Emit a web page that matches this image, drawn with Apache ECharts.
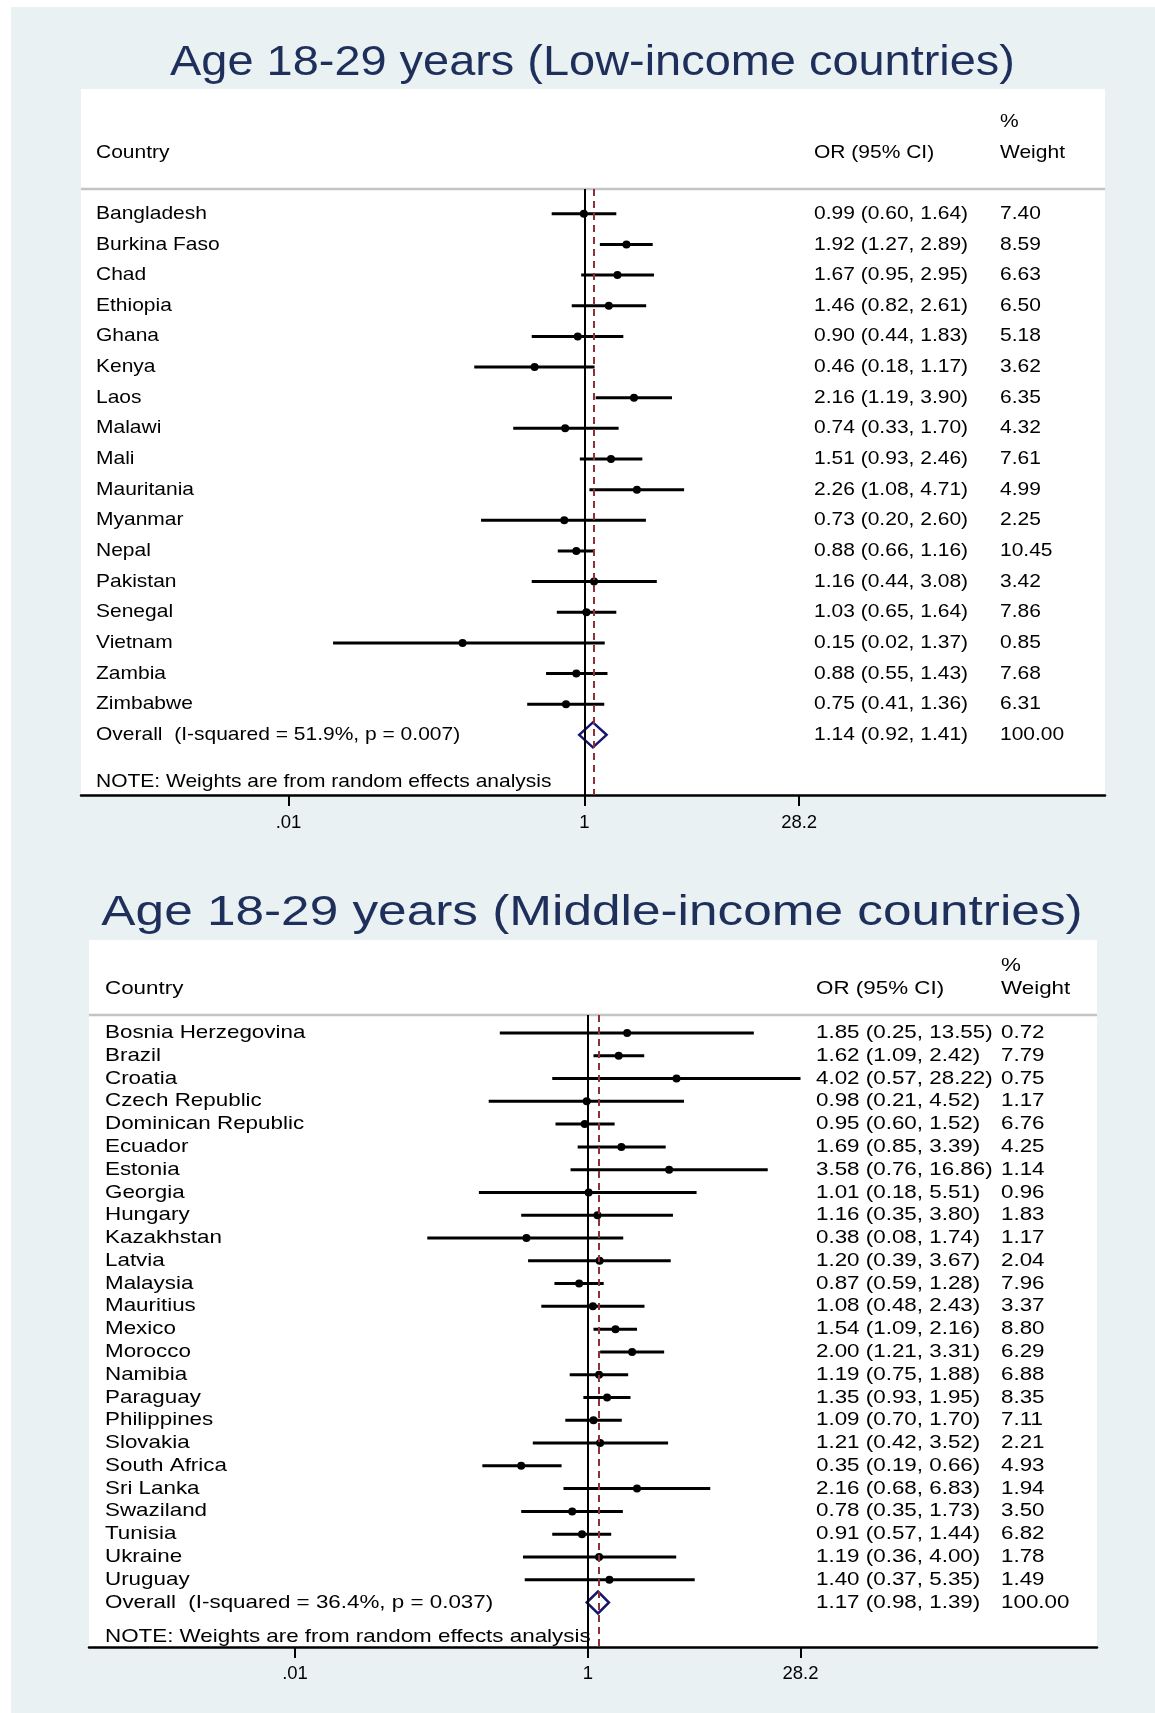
<!DOCTYPE html>
<html>
<head>
<meta charset="utf-8">
<script src="https://cdn.jsdelivr.net/npm/echarts@6/dist/echarts.min.js"></script>
<style>
  html, body { margin: 0; padding: 0; background: #ffffff; }
  #chart { width: 1155px; height: 1713px; }
</style>
</head>
<body>
<div id="chart"></div>
<script>
// ---------- Age 18-29, low-income countries ----------
const lowCountries = ['Bangladesh', 'Burkina Faso', 'Chad', 'Ethiopia', 'Ghana', 'Kenya', 'Laos', 'Malawi',
  'Mali', 'Mauritania', 'Myanmar', 'Nepal', 'Pakistan', 'Senegal', 'Vietnam', 'Zambia', 'Zimbabwe'];
const lowOR     = [0.99, 1.92, 1.67, 1.46, 0.90, 0.46, 2.16, 0.74, 1.51, 2.26, 0.73, 0.88, 1.16, 1.03, 0.15, 0.88, 0.75];
const lowLower  = [0.60, 1.27, 0.95, 0.82, 0.44, 0.18, 1.19, 0.33, 0.93, 1.08, 0.20, 0.66, 0.44, 0.65, 0.02, 0.55, 0.41];
const lowUpper  = [1.64, 2.89, 2.95, 2.61, 1.83, 1.17, 3.90, 1.70, 2.46, 4.71, 2.60, 1.16, 3.08, 1.64, 1.37, 1.43, 1.36];
const lowWeight = [7.40, 8.59, 6.63, 6.50, 5.18, 3.62, 6.35, 4.32, 7.61, 4.99, 2.25, 10.45, 3.42, 7.86, 0.85, 7.68, 6.31];
const lowOverall = [1.14, 0.92, 1.41];          // pooled OR, lower, upper
const lowHeterogeneity = ['51.9%', '0.007'];    // I-squared, p

// ---------- Age 18-29, middle-income countries ----------
const midCountries = ['Bosnia Herzegovina', 'Brazil', 'Croatia', 'Czech Republic', 'Dominican Republic', 'Ecuador',
  'Estonia', 'Georgia', 'Hungary', 'Kazakhstan', 'Latvia', 'Malaysia', 'Mauritius', 'Mexico', 'Morocco', 'Namibia',
  'Paraguay', 'Philippines', 'Slovakia', 'South Africa', 'Sri Lanka', 'Swaziland', 'Tunisia', 'Ukraine', 'Uruguay'];
const midOR     = [1.85, 1.62, 4.02, 0.98, 0.95, 1.69, 3.58, 1.01, 1.16, 0.38, 1.20, 0.87, 1.08, 1.54, 2.00, 1.19,
  1.35, 1.09, 1.21, 0.35, 2.16, 0.78, 0.91, 1.19, 1.40];
const midLower  = [0.25, 1.09, 0.57, 0.21, 0.60, 0.85, 0.76, 0.18, 0.35, 0.08, 0.39, 0.59, 0.48, 1.09, 1.21, 0.75,
  0.93, 0.70, 0.42, 0.19, 0.68, 0.35, 0.57, 0.36, 0.37];
const midUpper  = [13.55, 2.42, 28.22, 4.52, 1.52, 3.39, 16.86, 5.51, 3.80, 1.74, 3.67, 1.28, 2.43, 2.16, 3.31, 1.88,
  1.95, 1.70, 3.52, 0.66, 6.83, 1.73, 1.44, 4.00, 5.35];
const midWeight = [0.72, 7.79, 0.75, 1.17, 6.76, 4.25, 1.14, 0.96, 1.83, 1.17, 2.04, 7.96, 3.37, 8.80, 6.29, 6.88,
  8.35, 7.11, 2.21, 4.93, 1.94, 3.50, 6.82, 1.78, 1.49];
const midOverall = [1.17, 0.98, 1.39];
const midHeterogeneity = ['36.4%', '0.037'];

// ---------- shared axis ----------
const tickValues = [0.01, 1, 28.2];
const tickLabels = ['.01', '1', '28.2'];
const noteText = 'NOTE: Weights are from random effects analysis';

// ---------- page layout (pixels) ----------
const FONT = '"Liberation Sans", Arial, Helvetica, sans-serif';
const BODY_SIZE = 18.5;
const layouts = [
  { title: 'Age 18-29 years (Low-income countries)', titleX: 592.5, titleY: 63, titleSize: 42, titleScale: 1.117,
    boxLeft: 81, boxRight: 1105, boxTop: 89, pctY: 122, headY: 153, ruleY: 189, axisY: 795,
    row0: 213.8, rowStep: 30.65, noteRow: 18.55, xOne: 584.5, decade: 148,
    colName: 96, colOR: 814, colW: 1000, textScale: 1.135, diamondHalf: 12.5, labelMargin: 18 },
  { title: 'Age 18-29 years (Middle-income countries)', titleX: 592, titleY: 913, titleSize: 42, titleScale: 1.222,
    boxLeft: 89, boxRight: 1097, boxTop: 940, pctY: 966, headY: 989, ruleY: 1015, axisY: 1647,
    row0: 1033, rowStep: 22.78, noteRow: 26.52, xOne: 588, decade: 146.5,
    colName: 105, colOR: 816, colW: 1001, textScale: 1.21, diamondHalf: 11, labelMargin: 17 }
];
const panelData = [
  { names: lowCountries, or: lowOR, lo: lowLower, hi: lowUpper, w: lowWeight, overall: lowOverall, het: lowHeterogeneity },
  { names: midCountries, or: midOR, lo: midLower, hi: midUpper, w: midWeight, overall: midOverall, het: midHeterogeneity }
];

const fmt = v => v.toFixed(2);
const lg = v => Math.log10(v);

function textEl(str, x, y, size, sx, align, color) {
  return {
    type: 'text', x: x, y: y, scaleX: sx, scaleY: 1, silent: true,
    style: {
      text: str, x: 0, y: 0, fill: color || '#000000', font: size + 'px ' + FONT,
      align: align || 'left', verticalAlign: 'middle',
      textAlign: align || 'left', textVerticalAlign: 'middle'
    }
  };
}

const option = {
  backgroundColor: '#e9f1f3',
  animation: false,
  grid: [], xAxis: [], yAxis: [], series: [],
  graphic: [
    // white margins along the top and left edge
    { type: 'rect', silent: true, shape: { x: 0, y: 0, width: 1155, height: 7 }, style: { fill: '#ffffff' } },
    { type: 'rect', silent: true, shape: { x: 0, y: 0, width: 11, height: 1713 }, style: { fill: '#ffffff' } }
  ]
};

layouts.forEach((L, k) => {
  const D = panelData[k];
  const n = D.names.length;
  const xMin = (L.boxLeft - L.xOne) / L.decade;
  const xMax = (L.boxRight - L.xOne) / L.decade;
  const yMin = (L.ruleY - L.row0) / L.rowStep;
  const yMax = (L.axisY - L.row0) / L.rowStep;

  // plot box, title, column headers and header rule
  option.graphic.push(
    { type: 'rect', silent: true, z: -10,
      shape: { x: L.boxLeft, y: L.boxTop, width: L.boxRight - L.boxLeft, height: L.axisY - L.boxTop },
      style: { fill: '#ffffff' } },
    textEl(L.title, L.titleX, L.titleY, L.titleSize, L.titleScale, 'center', '#1f2f5b'),
    textEl('Country', L.colName, L.headY, BODY_SIZE, L.textScale),
    textEl('OR (95% CI)', L.colOR, L.headY, BODY_SIZE, L.textScale),
    textEl('%', L.colW, L.pctY, BODY_SIZE, L.textScale),
    textEl('Weight', L.colW, L.headY, BODY_SIZE, L.textScale),
    { type: 'line', silent: true,
      shape: { x1: L.boxLeft, y1: L.ruleY, x2: L.boxRight, y2: L.ruleY },
      style: { stroke: '#c4c4c4', lineWidth: 2.5 } }
  );

  option.grid.push({
    left: L.boxLeft, top: L.ruleY, width: L.boxRight - L.boxLeft, height: L.axisY - L.ruleY,
    containLabel: false, show: false
  });

  option.xAxis.push({
    gridIndex: k, type: 'value', min: xMin, max: xMax, position: 'bottom',
    axisLine: { show: true, onZero: false, lineStyle: { color: '#000000', width: 2.5 } },
    axisTick: { show: true, customValues: tickValues.map(lg), length: 11, lineStyle: { color: '#000000', width: 2 } },
    axisLabel: {
      show: true, customValues: tickValues.map(lg), margin: L.labelMargin,
      color: '#000000', fontSize: BODY_SIZE, fontFamily: FONT,
      formatter: v => {
        let best = 0;
        tickValues.forEach((t, i) => { if (Math.abs(lg(t) - v) < Math.abs(lg(tickValues[best]) - v)) best = i; });
        return tickLabels[best];
      }
    },
    splitLine: { show: false }
  });

  option.yAxis.push({
    gridIndex: k, type: 'value', min: yMin, max: yMax, inverse: true, show: false, splitLine: { show: false }
  });

  // line of no effect and pooled estimate
  option.series.push({
    type: 'line', xAxisIndex: k, yAxisIndex: k, data: [], z: 1, silent: true,
    markLine: {
      silent: true, symbol: ['none', 'none'], label: { show: false }, animation: false,
      data: [
        { xAxis: 0, lineStyle: { color: '#000000', width: 2, type: 'solid' } },
        { xAxis: lg(D.overall[0]), lineStyle: { color: '#8c3237', width: 2, type: [7, 5] } }
      ]
    }
  });

  // study confidence intervals and point estimates
  option.series.push({
    type: 'custom', xAxisIndex: k, yAxisIndex: k, z: 3, silent: true,
    data: D.names.map((_, i) => [i, lg(D.lo[i]), lg(D.hi[i]), lg(D.or[i])]),
    encode: { x: [1, 2, 3], y: 0 },
    renderItem: (params, api) => {
      const row = api.value(0);
      const a = api.coord([api.value(1), row]);
      const b = api.coord([api.value(2), row]);
      const c = api.coord([api.value(3), row]);
      return {
        type: 'group',
        children: [
          { type: 'line', shape: { x1: a[0], y1: a[1], x2: b[0], y2: b[1] }, style: { stroke: '#000000', lineWidth: 3 } },
          { type: 'circle', shape: { cx: c[0], cy: c[1], r: 4 }, style: { fill: '#000000' } }
        ]
      };
    }
  });

  // pooled estimate diamond
  option.series.push({
    type: 'custom', xAxisIndex: k, yAxisIndex: k, z: 4, silent: true,
    data: [[n, lg(D.overall[1]), lg(D.overall[0]), lg(D.overall[2])]],
    encode: { x: [1, 2, 3], y: 0 },
    renderItem: (params, api) => {
      const row = api.value(0);
      const lo = api.coord([api.value(1), row]);
      const mid = api.coord([api.value(2), row]);
      const hi = api.coord([api.value(3), row]);
      const h = L.diamondHalf;
      return {
        type: 'polygon',
        shape: { points: [[lo[0], lo[1]], [mid[0], mid[1] - h], [hi[0], hi[1]], [mid[0], mid[1] + h]] },
        style: { fill: 'none', stroke: '#16166e', lineWidth: 2.5 }
      };
    }
  });

  // table text: study rows, overall row and note
  const rows = D.names.map((name, i) => ({
    row: i, name: name,
    ci: fmt(D.or[i]) + ' (' + fmt(D.lo[i]) + ', ' + fmt(D.hi[i]) + ')',
    w: fmt(D.w[i])
  }));
  rows.push({
    row: n,
    name: 'Overall  (I-squared = ' + D.het[0] + ', p = ' + D.het[1] + ')',
    ci: fmt(D.overall[0]) + ' (' + fmt(D.overall[1]) + ', ' + fmt(D.overall[2]) + ')',
    w: '100.00'
  });
  rows.push({ row: L.noteRow, name: noteText, ci: '', w: '' });

  option.series.push({
    type: 'custom', xAxisIndex: k, yAxisIndex: k, z: 6, silent: true,
    data: rows.map(r => [xMin, r.row]),
    encode: { x: 0, y: 1 },
    renderItem: (params, api) => {
      const r = rows[params.dataIndex];
      const y = api.coord([api.value(0), api.value(1)])[1];
      const kids = [textEl(r.name, L.colName, y, BODY_SIZE, L.textScale)];
      if (r.ci) kids.push(textEl(r.ci, L.colOR, y, BODY_SIZE, L.textScale));
      if (r.w) kids.push(textEl(r.w, L.colW, y, BODY_SIZE, L.textScale));
      return { type: 'group', children: kids };
    }
  });
});

const chart = echarts.init(document.getElementById('chart'), null, { renderer: 'canvas', width: 1155, height: 1713 });
chart.setOption(option);
</script>
</body>
</html>
